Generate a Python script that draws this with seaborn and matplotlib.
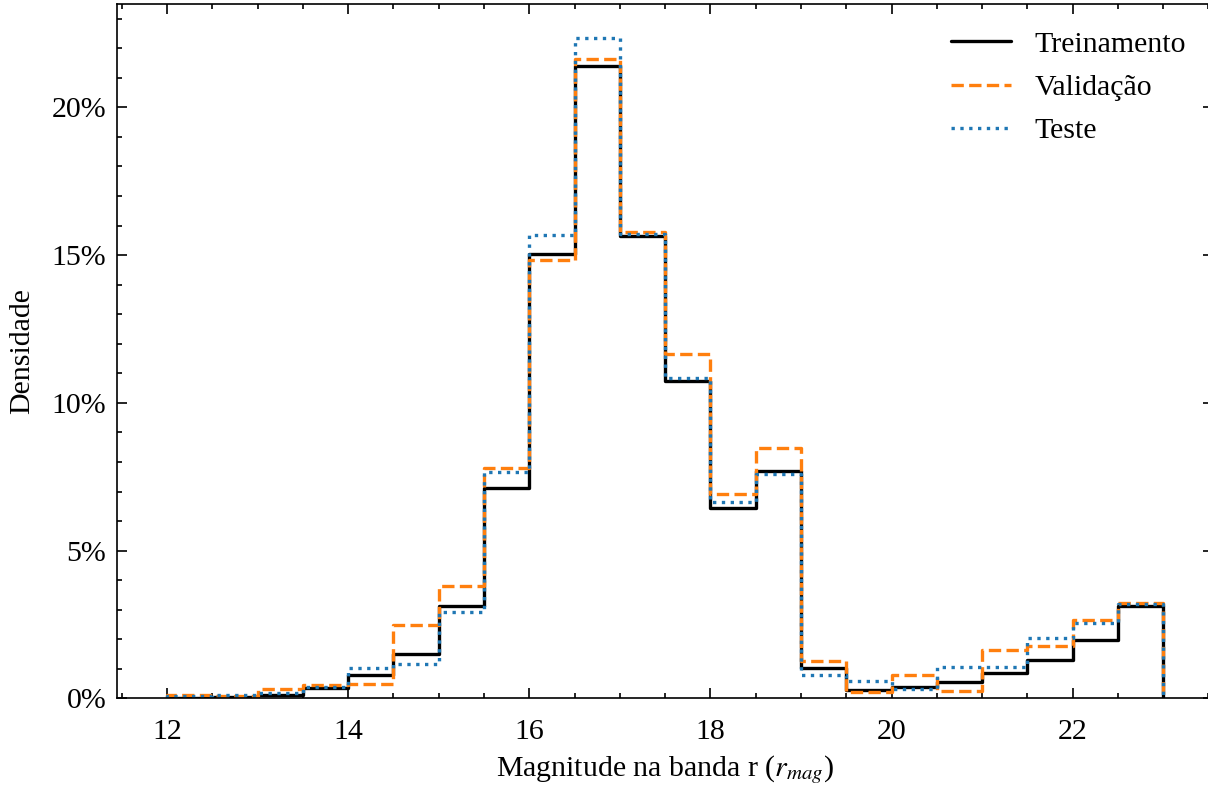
import numpy as np
import pandas as pd
import matplotlib
matplotlib.use('Agg')
import matplotlib.pyplot as plt
import seaborn as sns
from matplotlib.ticker import MultipleLocator, PercentFormatter

# --- Data: share of objects per r-magnitude bin (in %) ---
BIN_EDGES = list(np.arange(12.0, 23.01, 0.5))
BIN_CENTERS = [(a + b) / 2 for a, b in zip(BIN_EDGES[:-1], BIN_EDGES[1:])]

treinamento = [0.03, 0.05, 0.13, 0.35, 0.78, 1.51, 3.13, 7.12, 15.04, 21.39, 15.66,
               10.75, 6.43, 7.71, 1.03, 0.30, 0.40, 0.55, 0.86, 1.29, 1.99, 3.13]
validacao = [0.12, 0.10, 0.32, 0.47, 0.50, 2.50, 3.80, 7.80, 14.82, 21.63, 15.79,
             11.65, 6.92, 8.46, 1.27, 0.21, 0.78, 0.25, 1.63, 1.76, 2.64, 3.23]
teste = [0.10, 0.13, 0.20, 0.38, 1.03, 1.18, 2.93, 7.66, 15.69, 22.36, 15.72,
         10.84, 6.66, 7.59, 0.81, 0.58, 0.33, 1.08, 1.06, 2.04, 2.56, 3.19]

SERIES = [
    ('Treinamento', treinamento, 'black', '-'),
    ('Validação', validacao, '#ff7f0e', '--'),
    ('Teste', teste, '#1f77b4', ':'),
]

sns.set_style('ticks')
plt.rcParams.update({
    'font.family': ['Liberation Serif', 'DejaVu Serif'],
    'mathtext.fontset': 'stix',
    'font.size': 21.5,
    'text.color': 'black',
    'axes.labelcolor': 'black',
    'axes.edgecolor': 'black',
    'xtick.color': 'black',
    'ytick.color': 'black',
    'axes.linewidth': 1.2,
    'lines.linewidth': 2.4,
})

fig = plt.figure(figsize=(12.08, 7.87), dpi=100)
ax = fig.add_axes([0.0971, 0.1125, 0.907, 0.8825])

for label, values, color, ls in SERIES:
    df = pd.DataFrame({'mag': BIN_CENTERS, 'frac': values})
    sns.histplot(data=df, x='mag', weights='frac', bins=BIN_EDGES, element='step',
                 fill=False, stat='count', color=color, linestyle=ls, linewidth=2.4,
                 label=label, ax=ax)
    # close the outline down to zero at both ends, like a step histogram
    line = ax.lines[-1]
    xs, ys = line.get_data()
    line.set_data(np.r_[xs[0], xs, xs[-1]], np.r_[0, ys, 0])

ax.set_xlim(11.45, 23.55)
ax.set_ylim(0, 23.5)
ax.xaxis.set_major_locator(MultipleLocator(2))
ax.xaxis.set_minor_locator(MultipleLocator(0.5))
ax.yaxis.set_major_locator(MultipleLocator(5))
ax.yaxis.set_minor_locator(MultipleLocator(1))
ax.yaxis.set_major_formatter(PercentFormatter(xmax=100, decimals=0))
ax.tick_params(which='both', direction='in', top=True, right=True, width=1.2)
ax.tick_params(which='major', length=7.2)
ax.tick_params(which='minor', length=3.4)
ax.tick_params(axis='x', which='major', pad=15)
ax.tick_params(axis='y', which='major', pad=8)
for spine in ax.spines.values():
    spine.set_visible(True)

ax.set_xlabel('Magnitude na banda r ($r_{mag}$)', labelpad=6)
ax.set_ylabel('Densidade', labelpad=12)
ax.legend(loc='upper right', frameon=False, handlelength=2.0, borderaxespad=0.5,
          labelspacing=0.55, handletextpad=0.8)

fig.savefig('out.png', dpi=100)
